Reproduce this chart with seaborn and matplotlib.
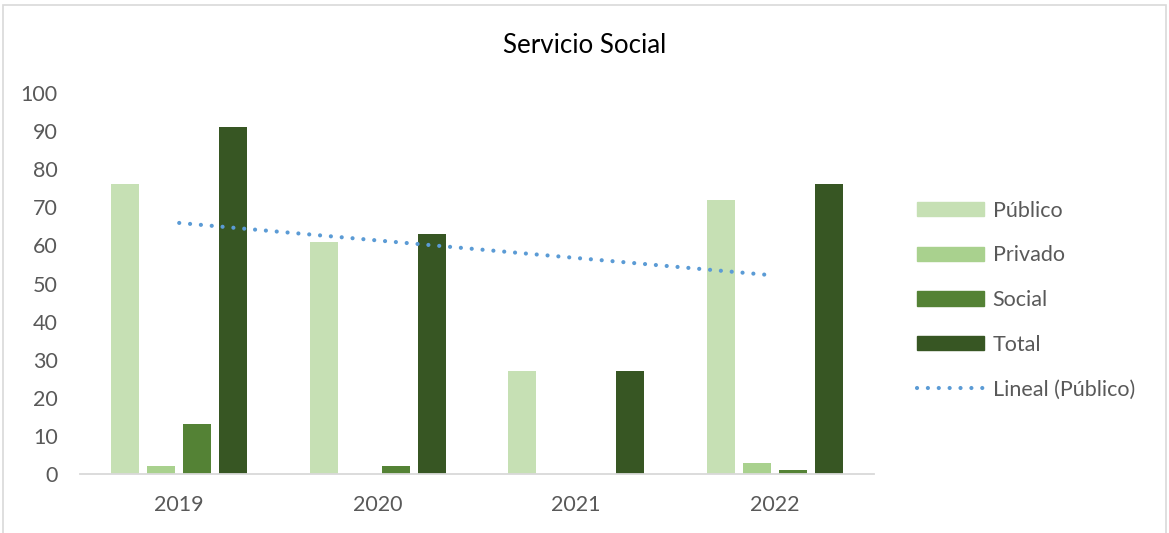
import matplotlib
matplotlib.use("Agg")
import matplotlib.pyplot as plt
import numpy as np
import pandas as pd
import seaborn as sns
from matplotlib.lines import Line2D
from matplotlib.patches import Rectangle

years = ["2019", "2020", "2021", "2022"]
series = ["Público", "Privado", "Social", "Total"]
publico = [76, 61, 27, 72]
privado = [2, 0, 0, 3]
social = [13, 2, 0, 1]
total = [91, 63, 27, 76]
colors = ["#C6E0B4", "#A9D18E", "#548235", "#375623"]
trend_color = "#5B9BD5"

rows = []
for name, vals in zip(series, [publico, privado, social, total]):
    for y, v in zip(years, vals):
        rows.append({"year": y, "serie": name, "valor": v})
df = pd.DataFrame(rows)

sns.set_style("white")
plt.rcParams["font.family"] = ["Lato", "DejaVu Sans"]

fig = plt.figure(figsize=(11.69, 5.33), dpi=100)
ax = fig.add_axes([0.0684, 0.1107, 0.6792, 0.7148])

sns.barplot(data=df, x="year", y="valor", hue="serie", hue_order=series,
            palette=colors, saturation=1, width=0.725, gap=0.22, linewidth=0,
            ax=ax, legend=False)

# linea de tendencia lineal (Público)
xs = np.arange(len(years))
coef = np.polyfit(xs, publico, 1)
dots = (0, (0.01, 2.6))
ax.plot(xs, np.polyval(coef, xs), linestyle=dots, color=trend_color,
        linewidth=3.0, dash_capstyle="round")

ax.set_ylim(0, 100)
ax.set_xlim(-0.5, 3.5)
ax.set_yticks(range(0, 101, 10))
ax.set_xlabel("")
ax.set_ylabel("")
for s in ["top", "right", "left"]:
    ax.spines[s].set_visible(False)
ax.spines["bottom"].set_color("#D9D9D9")
ax.spines["bottom"].set_linewidth(1.3)
ax.tick_params(axis="y", length=0, labelsize=15.5, labelcolor="#595959", pad=16)
ax.tick_params(axis="x", which="major", length=0, labelsize=15.5,
               labelcolor="#595959", pad=15)
ax.set_xticks(np.arange(-0.5, 4, 1), minor=True)
ax.tick_params(axis="x", which="minor", length=7, width=1.3, color="#D9D9D9")

fig.text(0.5, 0.915, "Servicio Social", ha="center", va="center",
         fontsize=18.6, color="black")

handles = [Rectangle((0, 0), 1, 1, color=c) for c in colors]
handles.append(Line2D([0], [0], linestyle=dots, color=trend_color,
                      linewidth=3.0, dash_capstyle="round"))
labels = series + ["Lineal (Público)"]
fig.legend(handles, labels, loc="center left", bbox_to_anchor=(0.7682, 0.437),
           frameon=False, fontsize=15.5, labelcolor="#595959",
           handlelength=3.1, handleheight=0.65, handletextpad=0.4,
           labelspacing=1.15)

fig.patches.append(Rectangle((3 / 1169, -0.01), 1163 / 1169, 1 - 5 / 533 + 0.01,
                             transform=fig.transFigure, fill=False,
                             edgecolor="#D9D9D9", linewidth=1.2))

fig.savefig("out.png", dpi=100)
